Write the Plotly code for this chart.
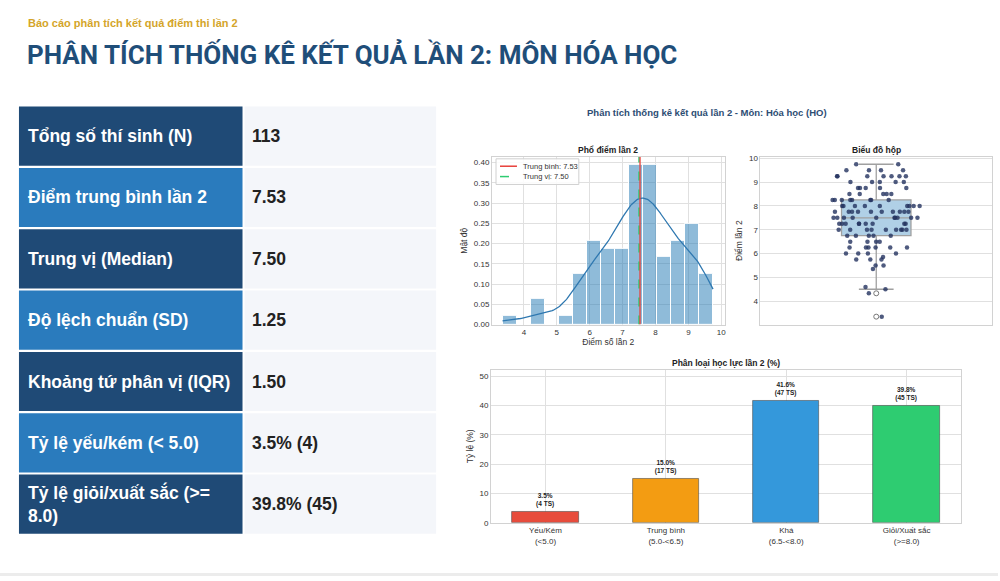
import numpy as np
import plotly.graph_objects as go

# ---------------- data ----------------
scores = (
    [3.35]
    + [4.33, 4.5, 4.6]
    + [5.35]
    + [5.5, 5.5, 5.75, 5.75, 5.75, 5.85]
    + [6.0] * 4 + [6.25] * 6
    + [6.5] * 4 + [6.75] * 5
    + [7.0] * 9
    + [7.25] * 9 + [7.5] * 10
    + [7.75] * 10 + [8.0] * 9
    + [8.25] * 8
    + [8.5] * 5 + [8.75] * 5
    + [9.0] * 5 + [9.25] * 7
    + [9.5] * 4 + [9.75] * 2
)
mean_score = 7.53
median_score = 7.50

table_labels = [
    "Tổng số thí sinh (N)",
    "Điểm trung bình lần 2",
    "Trung vị (Median)",
    "Độ lệch chuẩn (SD)",
    "Khoảng tứ phân vị (IQR)",
    "Tỷ lệ yếu/kém (< 5.0)",
    "Tỷ lệ giỏi/xuất sắc (>=<br>8.0)",
]
table_values = ["113", "7.53", "7.50", "1.25", "1.50", "3.5% (4)", "39.8% (45)"]

cat_labels = ["Yếu/Kém<br>(<5.0)", "Trung bình<br>(5.0-<6.5)", "Khá<br>(6.5-<8.0)", "Giỏi/Xuất sắc<br>(>=8.0)"]
cat_counts = [4, 17, 47, 45]
cat_colors = ["#e74c3c", "#f39c12", "#3498db", "#2ecc71"]

# ---------------- helpers ----------------
W, H = 1000, 581
def px(x):
    return x / W
def py(y):
    return 1 - y / H

FONT = "Liberation Sans, Arial, sans-serif"
GRID = "#e0e0e0"
FRAME = "#d2d2d2"
TICKC = "#333333"
MEAN_C = "#e8403a"
MED_C = "#2ecc71"

arr = np.array(scores)
n = len(arr)

fig = go.Figure()

# ---------------- histogram ----------------
fig.add_trace(go.Histogram(
    x=arr, xbins=dict(start=arr.min(), end=arr.max() + 0.01, size=(arr.max() - arr.min()) / 15 + 1e-5),
    histnorm="probability density",
    marker=dict(color="rgba(31,119,180,0.5)", line=dict(color="white", width=1)),
    showlegend=False, xaxis="x", yaxis="y",
))
bw = n ** (-1 / 5) * arr.std(ddof=1)
xs = np.linspace(arr.min(), arr.max(), 200)
kde = np.exp(-0.5 * ((xs[:, None] - arr[None, :]) / bw) ** 2).sum(axis=1) / (n * bw * np.sqrt(2 * np.pi))
fig.add_trace(go.Scatter(x=xs, y=kde, mode="lines", line=dict(color="#2f78b0", width=1.3),
                         showlegend=False, xaxis="x", yaxis="y"))
fig.add_trace(go.Scatter(x=[median_score, median_score], y=[0, 0.414], mode="lines",
                         line=dict(color=MED_C, width=1.5, dash="dash"),
                         showlegend=False, xaxis="x", yaxis="y"))
fig.add_trace(go.Scatter(x=[mean_score, mean_score], y=[0, 0.414], mode="lines",
                         line=dict(color=MEAN_C, width=1.3),
                         showlegend=False, xaxis="x", yaxis="y"))

# ---------------- box plot ----------------
q1, med, q3 = np.percentile(arr, [25, 50, 75])
iqr = q3 - q1
lo = arr[arr >= q1 - 1.5 * iqr].min()
hi = arr[arr <= q3 + 1.5 * iqr].max()
outl = arr[(arr < lo) | (arr > hi)]
fig.add_trace(go.Box(
    x0=0, q1=[q1], median=[med], q3=[q3], lowerfence=[lo], upperfence=[hi],
    width=0.3, whiskerwidth=0.5, fillcolor="#b0d0e6",
    line=dict(color="#a0a0a0", width=1.3), boxpoints=False,
    showlegend=False, xaxis="x2", yaxis="y2", hoverinfo="skip",
))
fig.add_trace(go.Scatter(x=[0] * len(outl), y=outl, mode="markers",
                         marker=dict(symbol="circle-open", color="#777777", size=5, line=dict(width=1)),
                         showlegend=False, xaxis="x2", yaxis="y2"))
fig.add_trace(go.Box(
    y=arr, x0=0, width=0.38, boxpoints="all", jitter=1, pointpos=0,
    fillcolor="rgba(0,0,0,0)", line=dict(color="rgba(0,0,0,0)", width=0),
    marker=dict(color="rgba(35,50,95,0.8)", size=4.5),
    showlegend=False, xaxis="x2", yaxis="y2",
))

# ---------------- bar chart ----------------
pcts = [100 * c / n for c in cat_counts]
fig.add_trace(go.Bar(
    x=cat_labels, y=pcts, width=0.55,
    marker=dict(color=cat_colors, line=dict(color="rgba(70,70,70,0.7)", width=0.8)),
    text=[f"<b>{p:.1f}%<br>({c} TS)</b>" for p, c in zip(pcts, cat_counts)],
    textposition="outside", textfont=dict(size=6.5, color="#222", family=FONT),
    cliponaxis=False, showlegend=False, xaxis="x3", yaxis="y3",
))

# ---------------- shapes: table ----------------
shapes = []
row_top0, row_step, row_h = 105, 62.2, 60
for i in range(len(table_labels)):
    top = row_top0 + i * row_step
    col = "#1f4a76" if i % 2 == 0 else "#2a7bbd"
    shapes.append(dict(type="rect", xref="paper", yref="paper", x0=px(19), x1=px(243),
                       y0=py(top + row_h), y1=py(top), fillcolor=col, line=dict(width=0), layer="below"))
    shapes.append(dict(type="rect", xref="paper", yref="paper", x0=px(245), x1=px(437),
                       y0=py(top + row_h), y1=py(top), fillcolor="#f4f6fa", line=dict(width=0), layer="below"))
shapes.append(dict(type="rect", xref="paper", yref="paper", x0=0, x1=1, y0=0, y1=py(578),
                   fillcolor="#ececec", line=dict(width=0), layer="below"))

# legend of the histogram (box, line samples)
shapes.append(dict(type="rect", xref="paper", yref="paper", x0=px(497), x1=px(580), y0=py(184), y1=py(158),
                   fillcolor="rgba(255,255,255,0.85)", line=dict(color="#d0d0d0", width=1), layer="above"))
shapes.append(dict(type="line", xref="paper", yref="paper", x0=px(501), x1=px(518), y0=py(165.5), y1=py(165.5),
                   line=dict(color=MEAN_C, width=1.5), layer="above"))
shapes.append(dict(type="line", xref="paper", yref="paper", x0=px(501), x1=px(518), y0=py(176), y1=py(176),
                   line=dict(color=MED_C, width=1.5, dash="dash"), layer="above"))

annotations = []
for i, (lab, val) in enumerate(zip(table_labels, table_values)):
    cy = row_top0 + i * row_step + row_h / 2
    annotations.append(dict(text=f"<b>{lab}</b>", x=px(26), y=py(cy), xref="paper", yref="paper",
                            xanchor="left", yanchor="middle", showarrow=False, align="left",
                            font=dict(size=17.5, color="white", family=FONT)))
    annotations.append(dict(text=f"<b>{val}</b>", x=px(251), y=py(cy), xref="paper", yref="paper",
                            xanchor="left", yanchor="middle", showarrow=False, align="left",
                            font=dict(size=17.5, color="#222222", family=FONT)))

annotations += [
    dict(text="<b>Báo cáo phân tích kết quả điểm thi lần 2</b>", x=px(26), y=py(20), xref="paper", yref="paper",
         xanchor="left", yanchor="middle", showarrow=False, font=dict(size=11, color="#d4a52a", family=FONT)),
    dict(text="<b>PHÂN TÍCH THỐNG KÊ KẾT QUẢ LẦN 2: MÔN HÓA HỌC</b>", x=px(25), y=py(52), xref="paper", yref="paper",
         xanchor="left", yanchor="middle", showarrow=False,
         font=dict(size=26, color="#1f4e79", family="Roboto, sans-serif")),
    dict(text="<b>Phân tích thống kê kết quả lần 2 - Môn: Hóa học (HO)</b>", x=px(708), y=py(111),
         xref="paper", yref="paper", xanchor="center", yanchor="middle", showarrow=False,
         font=dict(size=9.5, color="#2d4d73", family=FONT)),
    dict(text="<b>Phổ điểm lần 2</b>", x=px(609), y=py(149), xref="paper", yref="paper",
         xanchor="center", yanchor="middle", showarrow=False, font=dict(size=8.5, color="#222", family=FONT)),
    dict(text="<b>Biểu đồ hộp</b>", x=px(878), y=py(149), xref="paper", yref="paper",
         xanchor="center", yanchor="middle", showarrow=False, font=dict(size=8.5, color="#222", family=FONT)),
    dict(text="<b>Phân loại học lực lần 2 (%)</b>", x=px(727), y=py(365), xref="paper", yref="paper",
         xanchor="center", yanchor="middle", showarrow=False, font=dict(size=8.5, color="#222", family=FONT)),
    dict(text=f"Trung bình: {mean_score:.2f}", x=px(522), y=py(165.5), xref="paper", yref="paper",
         xanchor="left", yanchor="middle", showarrow=False, font=dict(size=7.5, color="#333", family=FONT)),
    dict(text=f"Trung vị: {median_score:.2f}", x=px(522), y=py(176), xref="paper", yref="paper",
         xanchor="left", yanchor="middle", showarrow=False, font=dict(size=7.5, color="#333", family=FONT)),
]

axis_common = dict(showline=True, linecolor=FRAME, linewidth=1, mirror=True, gridcolor=GRID, gridwidth=1,
                   zeroline=False, ticks="", tickfont=dict(size=8, color=TICKC, family=FONT))
title_font = dict(size=8.5, color="#333", family=FONT)

fig.update_layout(
    width=W, height=H, autosize=False, margin=dict(l=0, r=0, t=0, b=0),
    paper_bgcolor="white", plot_bgcolor="white",
    font=dict(family=FONT, color="#333"),
    barmode="overlay", bargap=0, boxmode="overlay", showlegend=False,
    shapes=shapes, annotations=annotations,
    xaxis=dict(domain=[px(493), px(726)], anchor="y", range=[3.03, 10.1], dtick=1, tick0=0,
               title=dict(text="Điểm số lần 2", font=title_font, standoff=2), **axis_common),
    yaxis=dict(domain=[py(326), py(156)], anchor="x", range=[0, 0.414], dtick=0.05, tickformat=".2f",
               title=dict(text="Mật độ", font=title_font, standoff=4), **axis_common),
    xaxis2=dict(domain=[px(762), px(994)], anchor="y2", range=[-0.5, 0.5], showticklabels=False,
                **{**axis_common, "gridcolor": "rgba(0,0,0,0)"}),
    yaxis2=dict(domain=[py(326), py(156)], anchor="x2", range=[3.02, 10.06], dtick=1,
                title=dict(text="Điểm lần 2", font=title_font, standoff=4), **axis_common),
    xaxis3=dict(domain=[px(492), px(963)], anchor="y3", range=[-0.4525, 3.4525], type="category", **axis_common),
    yaxis3=dict(domain=[py(527), py(372)], anchor="x3", range=[0, 52.1], dtick=10,
                title=dict(text="Tỷ lệ (%)", font=title_font, standoff=4), **axis_common),
)

fig.write_html("out.html", config={"displayModeBar": False},
               post_script="document.body.style.margin='0';document.body.style.overflow='hidden';")
